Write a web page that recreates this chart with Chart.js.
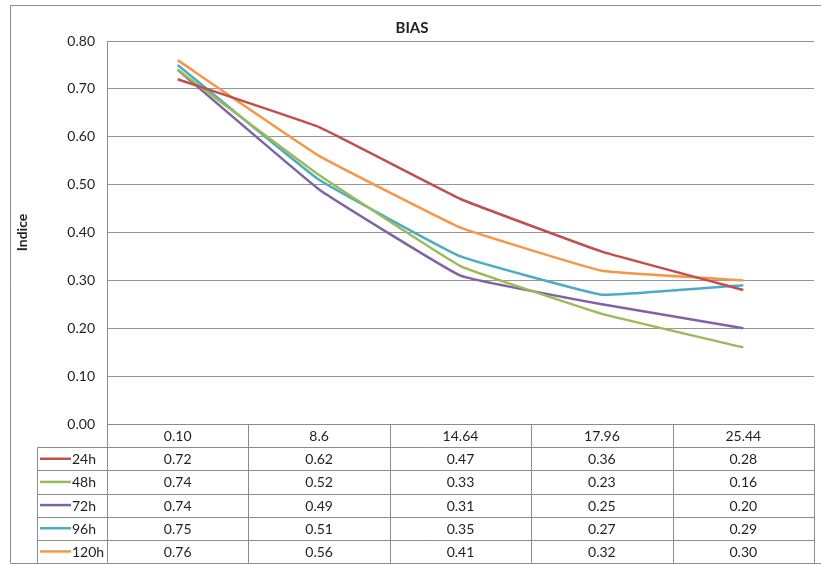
<!DOCTYPE html>
<html>
<head>
<meta charset="utf-8">
<title>BIAS</title>
<script src="https://cdn.jsdelivr.net/npm/chart.js@4/dist/chart.umd.min.js"></script>
<style>
  html, body { margin: 0; padding: 0; background: #ffffff; }
  #wrap { width: 821px; height: 565px; position: relative; }
</style>
</head>
<body>
<div id="wrap"><canvas id="chart"></canvas></div>
<script>
// Threshold categories (x) and BIAS index per forecast lead time
const categories = ['0.10', '8.6', '14.64', '17.96', '25.44'];
const seriesNames = ['24h', '48h', '72h', '96h', '120h'];
const bias24h  = [0.72, 0.62, 0.47, 0.36, 0.28];
const bias48h  = [0.74, 0.52, 0.33, 0.23, 0.16];
const bias72h  = [0.74, 0.49, 0.31, 0.25, 0.20];
const bias96h  = [0.75, 0.51, 0.35, 0.27, 0.29];
const bias120h = [0.76, 0.56, 0.41, 0.32, 0.30];
const yTickValues = [0.00, 0.10, 0.20, 0.30, 0.40, 0.50, 0.60, 0.70, 0.80];

const seriesValues = [bias24h, bias48h, bias72h, bias96h, bias120h];
const seriesColors = ['#C0504D', '#9BBB59', '#8064A2', '#4BACC6', '#F79646'];

const FONT = 'Lato, "Open Sans", "DejaVu Sans", sans-serif';
const TEXT = '#1f1f1f';
const LINE = '#8c8c8c';

// White background plus the outer frame of the chart
const frame = {
  id: 'frame',
  beforeDraw(chart) {
    const ctx = chart.ctx;
    ctx.save();
    ctx.fillStyle = '#ffffff';
    ctx.fillRect(0, 0, chart.width, chart.height);
    ctx.restore();
  },
  afterDraw(chart) {
    const ctx = chart.ctx;
    ctx.save();
    ctx.strokeStyle = LINE;
    ctx.lineWidth = 1;
    ctx.beginPath();
    ctx.moveTo(chart.width, 5.5);
    ctx.lineTo(10.5, 5.5);
    ctx.lineTo(10.5, 563.5);
    ctx.lineTo(chart.width, 563.5);
    ctx.stroke();
    ctx.restore();
  }
};

// Data table under the plot, aligned to the category columns
const dataTable = {
  id: 'dataTable',
  afterDraw(chart) {
    const ctx = chart.ctx;
    const a = chart.chartArea;
    const xs = chart.scales.x;
    const n = categories.length;
    const top = a.bottom;
    const bottom = 563;
    const rows = seriesNames.length + 1;
    const rowH = (bottom - top) / rows;
    const labelLeft = 37;
    const colW = (a.right - a.left) / n;

    ctx.save();
    ctx.strokeStyle = LINE;
    ctx.lineWidth = 1;
    ctx.beginPath();
    // header top line
    ctx.moveTo(a.left, Math.round(top) + 0.5);
    ctx.lineTo(a.right, Math.round(top) + 0.5);
    // row separators
    for (let i = 1; i < rows; i++) {
      const y = Math.round(top + rowH * i) + 0.5;
      ctx.moveTo(labelLeft, y);
      ctx.lineTo(a.right, y);
    }
    // column separators
    for (let i = 0; i <= n; i++) {
      const x = Math.round(a.left + colW * i) + 0.5;
      ctx.moveTo(x, i === 0 ? a.top : top);
      ctx.lineTo(x, bottom);
    }
    // left edge of the legend column
    ctx.moveTo(labelLeft + 0.5, top + rowH);
    ctx.lineTo(labelLeft + 0.5, bottom);
    ctx.stroke();

    ctx.font = '14px ' + FONT;
    ctx.fillStyle = TEXT;
    ctx.textAlign = 'center';
    ctx.textBaseline = 'middle';
    categories.forEach((c, i) => {
      ctx.fillText(c, xs.getPixelForValue(i), top + rowH / 2 + 1);
    });

    seriesNames.forEach((name, r) => {
      const yc = top + rowH * (r + 1) + rowH / 2 + 1;
      // legend key
      ctx.strokeStyle = seriesColors[r];
      ctx.lineWidth = 2.5;
      ctx.beginPath();
      ctx.moveTo(40, yc - 1);
      ctx.lineTo(71, yc - 1);
      ctx.stroke();
      ctx.fillStyle = TEXT;
      ctx.textAlign = 'left';
      ctx.fillText(name, 72, yc);
      ctx.textAlign = 'center';
      seriesValues[r].forEach((v, i) => {
        ctx.fillText(v.toFixed(2), xs.getPixelForValue(i), yc);
      });
    });
    ctx.restore();
  }
};

new Chart(document.getElementById('chart'), {
  type: 'line',
  data: {
    labels: categories,
    datasets: seriesNames.map((name, i) => ({
      label: name,
      data: seriesValues[i],
      borderColor: seriesColors[i],
      backgroundColor: seriesColors[i],
      borderWidth: 2.5,
      pointRadius: 0,
      tension: 0.08,
      fill: false
    }))
  },
  options: {
    responsive: true,
    maintainAspectRatio: false,
    animation: false,
    layout: { padding: { left: 10, top: 5, right: 7, bottom: 141 } },
    plugins: {
      legend: { display: false },
      tooltip: { enabled: false },
      title: {
        display: true,
        text: 'BIAS',
        color: TEXT,
        font: { family: FONT, size: 15, weight: 'bold' },
        padding: { top: 14, bottom: 4 }
      }
    },
    scales: {
      x: {
        display: false,
        offset: true
      },
      y: {
        min: 0,
        max: 0.8,
        afterBuildTicks(scale) {
          scale.ticks = yTickValues.map(v => ({ value: v }));
        },
        afterFit(scale) {
          scale.width = 97;
          scale.paddingTop = 0;
          scale.paddingBottom = 0;
        },
        ticks: {
          color: TEXT,
          font: { family: FONT, size: 14 },
          padding: 12,
          callback: v => Number(v).toFixed(2)
        },
        grid: { color: '#969696', lineWidth: 1, drawTicks: false },
        border: { display: true, color: LINE },
        title: {
          display: true,
          text: 'Indice',
          color: TEXT,
          font: { family: FONT, size: 14, weight: 'bold' },
          padding: { top: 4, bottom: 0 }
        }
      }
    }
  },
  plugins: [frame, dataTable]
});
</script>
</body>
</html>
